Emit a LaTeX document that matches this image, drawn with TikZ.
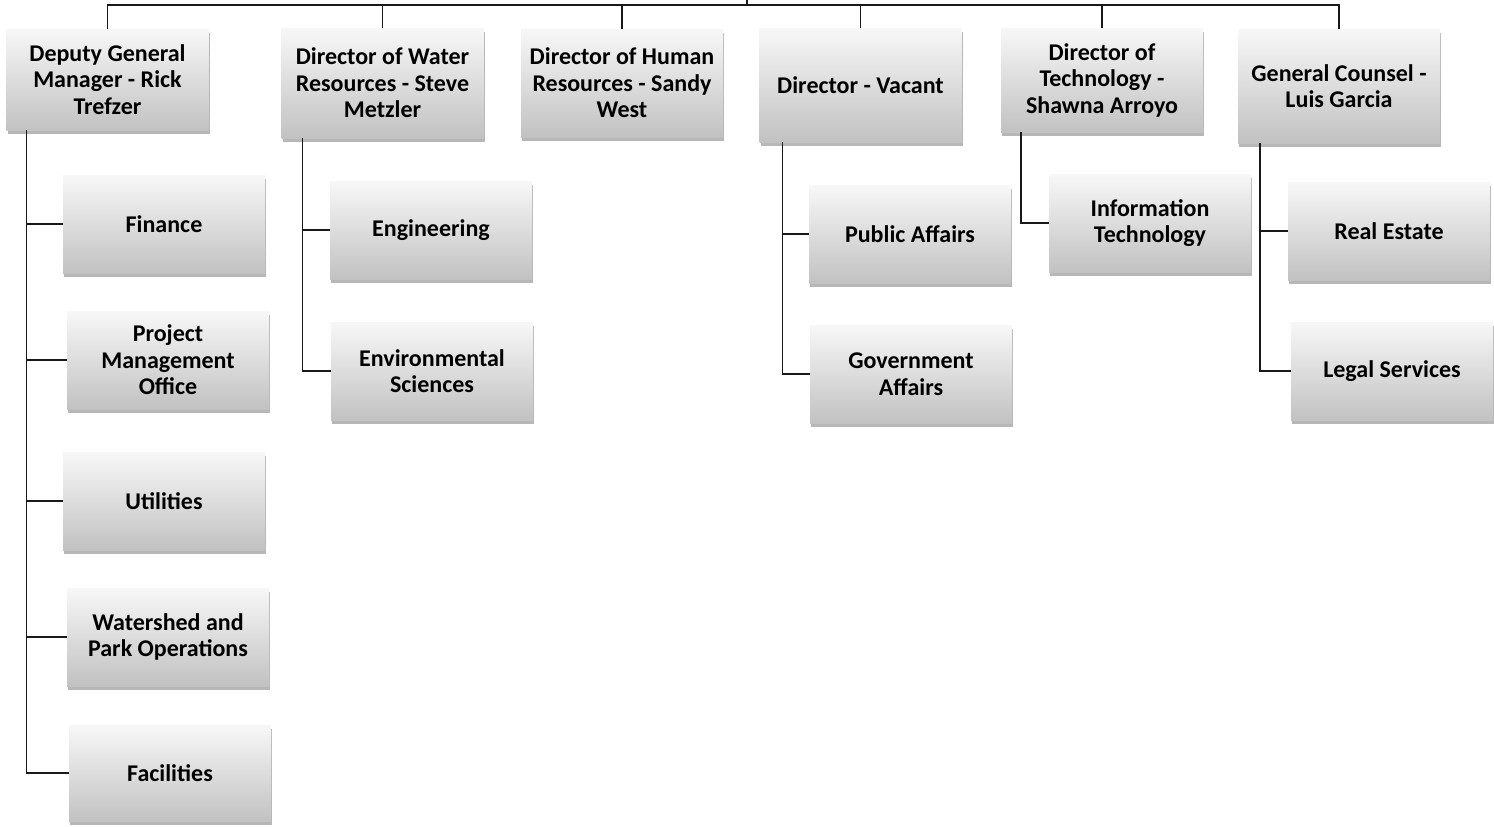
\documentclass[tikz,border=0pt]{standalone}
\usepackage{fontspec}
\setmainfont{Carlito}
\usetikzlibrary{shadows}
\tikzset{
  unit/.style={rectangle, minimum width=202pt, minimum height=98pt, align=center,
    top color=black!3, bottom color=black!24, draw=none,
    drop shadow={shadow xshift=1pt, shadow yshift=-4pt, opacity=0.4, fill=black!70},
    font=\fontsize{24}{26.5}\selectfont\bfseries},
  link/.style={line width=1.5pt, black!90}
}
\begin{document}
\begin{tikzpicture}[x=1pt, y=-1pt]
\useasboundingbox[fill=white] (0,0) rectangle (1494,827);
\coordinate (root) at (747,0);
\coordinate (bar) at (747,5);
\node[unit, minimum height=101pt] (dgm) at (107.5,79.5) {Deputy General\\Manager - Rick\\Trefzer};
\node[unit, minimum height=110pt] (water) at (382.5,83) {Director of Water\\Resources - Steve\\Metzler};
\node[unit, minimum height=108pt] (hr) at (622,83) {Director of Human\\Resources - Sandy\\West};
\node[unit, minimum height=114pt] (vacant) at (860.5,85) {Director - Vacant};
\node[unit, minimum height=104pt] (tech) at (1102,80) {Director of\\Technology -\\Shawna Arroyo};
\node[unit, minimum height=114pt] (gc) at (1339,86) {General Counsel -\\Luis Garcia};
\node[unit] (fin) at (164,224) {Finance};
\node[unit] (pmo) at (168,360) {Project\\Management\\Office};
\node[unit] (util) at (164,501) {Utilities};
\node[unit] (wsh) at (168,637) {Watershed and\\Park Operations};
\node[unit, minimum height=96pt] (fac) at (170,773) {Facilities};
\node[unit] (eng) at (431,230) {Engineering};
\node[unit] (env) at (432,371) {Environmental\\Sciences};
\node[unit] (pub) at (910,234) {Public Affairs};
\node[unit] (gov) at (911,374) {Government\\Affairs};
\node[unit] (it) at (1150,223) {Information\\Technology};
\node[unit] (re) at (1389,231) {Real Estate};
\node[unit] (legal) at (1392,371) {Legal Services};
% top level
\draw[link] (root) -- (bar);
\foreach \n in {dgm,water,hr,vacant,tech,gc}
  \draw[link] (bar) -| (\n.north);
% branches
\foreach \n in {fin,pmo,util,wsh,fac}
  \draw[link] ([xshift=20pt]dgm.south west) |- (\n.west);
\foreach \n in {eng,env}
  \draw[link] ([xshift=21pt]water.south west) |- (\n.west);
\foreach \n in {pub,gov}
  \draw[link] ([xshift=23pt]vacant.south west) |- (\n.west);
\draw[link] ([xshift=20pt]tech.south west) |- (it.west);
\foreach \n in {re,legal}
  \draw[link] ([xshift=22pt]gc.south west) |- (\n.west);
\end{tikzpicture}
\end{document}
